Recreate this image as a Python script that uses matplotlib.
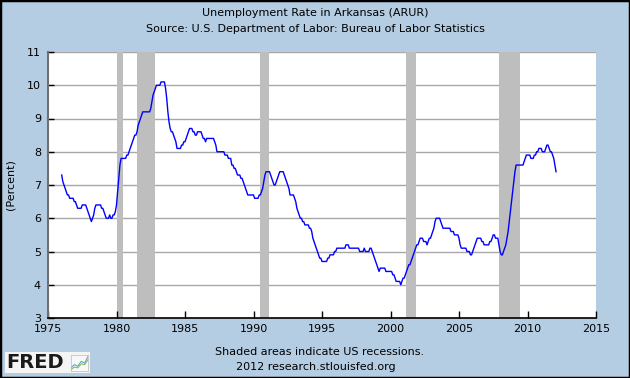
import matplotlib
matplotlib.use("Agg")
import matplotlib.pyplot as plt
from matplotlib.patches import Rectangle
import numpy as np

plt.rcParams['font.family'] = ['DejaVu Sans']

# ---------------- data (monthly, Arkansas unemployment rate, %) ----------------
start_year = 1976
rate = {
    1976: [7.3, 7.1, 7.0, 6.9, 6.8, 6.7, 6.7, 6.6, 6.6, 6.6, 6.6, 6.5],
    1977: [6.5, 6.4, 6.3, 6.3, 6.3, 6.3, 6.4, 6.4, 6.4, 6.4, 6.3, 6.2],
    1978: [6.1, 6.0, 5.9, 6.0, 6.1, 6.3, 6.4, 6.4, 6.4, 6.4, 6.4, 6.3],
    1979: [6.3, 6.2, 6.1, 6.0, 6.0, 6.0, 6.1, 6.0, 6.0, 6.1, 6.1, 6.2],
    1980: [6.4, 6.8, 7.2, 7.6, 7.8, 7.8, 7.8, 7.8, 7.8, 7.9, 7.9, 8.0],
    1981: [8.1, 8.2, 8.3, 8.4, 8.5, 8.5, 8.6, 8.8, 8.9, 9.0, 9.1, 9.2],
    1982: [9.2, 9.2, 9.2, 9.2, 9.2, 9.2, 9.3, 9.5, 9.7, 9.8, 9.9, 10.0],
    1983: [10.0, 10.0, 10.0, 10.1, 10.1, 10.1, 10.1, 9.9, 9.6, 9.2, 8.9, 8.7],
    1984: [8.6, 8.6, 8.5, 8.4, 8.3, 8.1, 8.1, 8.1, 8.1, 8.2, 8.2, 8.3],
    1985: [8.3, 8.4, 8.5, 8.6, 8.7, 8.7, 8.7, 8.6, 8.6, 8.5, 8.5, 8.6],
    1986: [8.6, 8.6, 8.6, 8.5, 8.4, 8.4, 8.3, 8.4, 8.4, 8.4, 8.4, 8.4],
    1987: [8.4, 8.4, 8.3, 8.2, 8.0, 8.0, 8.0, 8.0, 8.0, 8.0, 8.0, 7.9],
    1988: [7.9, 7.9, 7.8, 7.8, 7.8, 7.6, 7.6, 7.5, 7.5, 7.4, 7.3, 7.3],
    1989: [7.3, 7.2, 7.2, 7.1, 7.0, 6.9, 6.8, 6.7, 6.7, 6.7, 6.7, 6.7],
    1990: [6.7, 6.6, 6.6, 6.6, 6.6, 6.7, 6.7, 6.8, 6.9, 7.1, 7.3, 7.4],
    1991: [7.4, 7.4, 7.4, 7.3, 7.2, 7.1, 7.0, 7.0, 7.1, 7.2, 7.3, 7.4],
    1992: [7.4, 7.4, 7.4, 7.3, 7.2, 7.1, 7.0, 6.9, 6.7, 6.7, 6.7, 6.7],
    1993: [6.6, 6.5, 6.3, 6.2, 6.1, 6.0, 6.0, 5.9, 5.9, 5.8, 5.8, 5.8],
    1994: [5.8, 5.7, 5.7, 5.6, 5.4, 5.3, 5.2, 5.1, 5.0, 4.9, 4.8, 4.8],
    1995: [4.7, 4.7, 4.7, 4.7, 4.7, 4.8, 4.8, 4.9, 4.9, 4.9, 4.9, 5.0],
    1996: [5.0, 5.1, 5.1, 5.1, 5.1, 5.1, 5.1, 5.1, 5.1, 5.2, 5.2, 5.2],
    1997: [5.1, 5.1, 5.1, 5.1, 5.1, 5.1, 5.1, 5.1, 5.1, 5.0, 5.0, 5.0],
    1998: [5.0, 5.1, 5.0, 5.0, 5.0, 5.0, 5.1, 5.1, 5.0, 4.9, 4.8, 4.7],
    1999: [4.6, 4.5, 4.4, 4.5, 4.5, 4.5, 4.5, 4.5, 4.4, 4.4, 4.4, 4.4],
    2000: [4.4, 4.4, 4.3, 4.3, 4.2, 4.1, 4.1, 4.1, 4.1, 4.0, 4.1, 4.2],
    2001: [4.2, 4.3, 4.4, 4.5, 4.6, 4.6, 4.7, 4.8, 4.9, 5.0, 5.1, 5.2],
    2002: [5.2, 5.3, 5.4, 5.4, 5.4, 5.3, 5.3, 5.3, 5.2, 5.3, 5.4, 5.4],
    2003: [5.5, 5.6, 5.7, 5.9, 6.0, 6.0, 6.0, 6.0, 5.9, 5.8, 5.7, 5.7],
    2004: [5.7, 5.7, 5.7, 5.7, 5.7, 5.6, 5.6, 5.6, 5.5, 5.5, 5.5, 5.5],
    2005: [5.4, 5.2, 5.1, 5.1, 5.1, 5.1, 5.1, 5.0, 5.0, 5.0, 4.9, 4.9],
    2006: [5.0, 5.1, 5.2, 5.3, 5.4, 5.4, 5.4, 5.4, 5.3, 5.3, 5.2, 5.2],
    2007: [5.2, 5.2, 5.2, 5.3, 5.3, 5.4, 5.5, 5.5, 5.4, 5.4, 5.4, 5.2],
    2008: [5.0, 4.9, 4.9, 5.0, 5.1, 5.2, 5.4, 5.6, 5.9, 6.2, 6.5, 6.8],
    2009: [7.1, 7.4, 7.6, 7.6, 7.6, 7.6, 7.6, 7.6, 7.6, 7.7, 7.8, 7.9],
    2010: [7.9, 7.9, 7.9, 7.8, 7.8, 7.8, 7.9, 7.9, 8.0, 8.0, 8.1, 8.1],
    2011: [8.1, 8.0, 8.0, 8.0, 8.1, 8.2, 8.2, 8.1, 8.0, 8.0, 7.9, 7.8],
    2012: [7.6, 7.4],
}

# US recessions (peak month, trough month) as (year, month)
recession_start = [(1980, 1), (1981, 7), (1990, 7), (2001, 3), (2007, 12)]
recession_end = [(1980, 7), (1982, 11), (1991, 3), (2001, 11), (2009, 6)]

x_ticks = [1975, 1980, 1985, 1990, 1995, 2000, 2005, 2010, 2015]
y_ticks = [3, 4, 5, 6, 7, 8, 9, 10, 11]

title = "Unemployment Rate in Arkansas (ARUR)"
subtitle = "Source: U.S. Department of Labor: Bureau of Labor Statistics"
ylabel = "(Percent)"
footer1 = "Shaded areas indicate US recessions."
footer2 = "2012 research.stlouisfed.org"

# ---------------- build series ----------------
xs, ys = [], []
for yr in sorted(rate):
    for m, v in enumerate(rate[yr]):
        xs.append(yr + m / 12.0)
        ys.append(v)

def ym(t):
    return t[0] + (t[1] - 1) / 12.0

BG = '#B4CDE3'
fig = plt.figure(figsize=(6.3, 3.78), dpi=100, facecolor=BG)
ax = fig.add_axes([48/630, 1 - 318/378, (596-48)/630, (318-52)/378])
ax.set_facecolor('white')

for s, e in zip(recession_start, recession_end):
    ax.axvspan(ym(s), ym(e), color='#BEBEBE', lw=0, zorder=1)

for yv in y_ticks:
    ax.axhline(yv, color='#A8A8A8', lw=1.0, zorder=0.5)

ax.plot(xs, ys, color='#0000FF', lw=1.0, zorder=3)

ax.set_xlim(1975, 2015)
ax.set_ylim(3, 11)
ax.set_xticks(x_ticks)
ax.set_yticks(y_ticks)
ax.set_xticklabels([str(t) for t in x_ticks])
ax.set_yticklabels([str(t) for t in y_ticks])
ax.tick_params(axis='x', direction='in', length=5, width=1, color='black',
               labelsize=8, pad=4)
ax.tick_params(axis='y', direction='in', length=4, width=1, color='black',
               labelsize=8, pad=5)

for side in ['top', 'right']:
    ax.spines[side].set_visible(False)
ax.spines['bottom'].set_color('black')
ax.spines['bottom'].set_linewidth(1.2)
ax.spines['left'].set_color('#707070')
ax.spines['left'].set_linewidth(1.5)

ax.set_ylabel(ylabel, fontsize=8, labelpad=8)

fig.text(0.5, 1 - 13/378, title, ha='center', va='center', fontsize=8)
fig.text(0.5, 1 - 29/378, subtitle, ha='center', va='center', fontsize=8)
fig.text(320/630, 1 - 352/378, footer1, ha='center', va='center', fontsize=8)
fig.text(316/630, 1 - 367/378, footer2, ha='center', va='center', fontsize=8)

# outer black frame
fig.patches.append(Rectangle((0, 0), 1, 1, transform=fig.transFigure,
                             fill=False, edgecolor='black', lw=2.5))

# FRED logo
fig.patches.append(Rectangle((5/630, 1 - 373/378), 85/630, 21/378,
                             transform=fig.transFigure, facecolor='#F4F4F4',
                             edgecolor='none', zorder=1))
fig.text(6/630, 1 - 362/378, "FRED", ha='left', va='center', fontsize=14,
         fontweight='bold', color='#1A1A1A', zorder=4)
icon = fig.add_axes([71/630, 1 - 371/378, 17/630, 16/378])
icon.set_zorder(5)
icon.set_facecolor('#F8F8F8')
icon.plot([0, 1, 2, 3, 4, 5], [1, 2, 1.5, 3, 2.5, 4.5], color='#6A9FCF', lw=0.8)
icon.plot([0, 1, 2, 3, 4, 5], [0.5, 1.2, 1.0, 2.2, 2.0, 3.5], color='#7DBF5A', lw=0.8)
icon.set_xlim(0, 5)
icon.set_ylim(0, 5)
icon.set_xticks([])
icon.set_yticks([])
for sp in icon.spines.values():
    sp.set_color('#BBBBBB')
    sp.set_linewidth(0.5)

fig.savefig('out.png', dpi=100, facecolor=BG)
